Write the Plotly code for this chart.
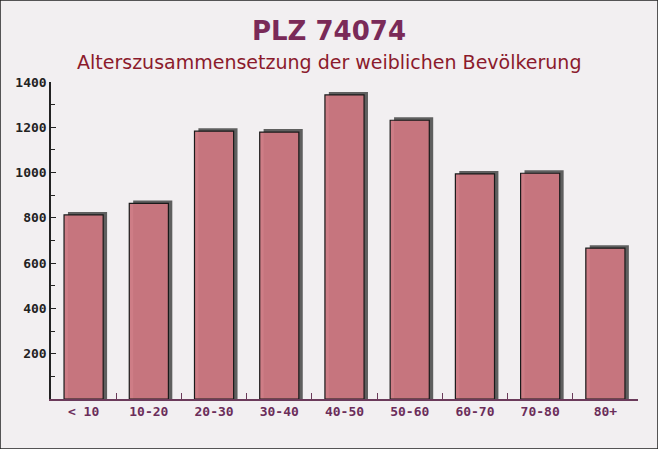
import plotly.graph_objects as go

categories = ["< 10", "10-20", "20-30", "30-40", "40-50", "50-60", "60-70", "70-80", "80+"]
values = [813, 864, 1183, 1179, 1343, 1231, 994, 997, 666]
y_ticks = [200, 400, 600, 800, 1000, 1200, 1400]

shadow_lift = 13
bar_w = 0.6
shadow_shift = 0.06

fig = go.Figure()
fig.add_trace(go.Bar(
    x=categories, y=[v + shadow_lift for v in values],
    width=bar_w, offset=-bar_w / 2 + shadow_shift,
    marker=dict(color="#5f5f5f", line=dict(width=0)),
    hoverinfo="skip", showlegend=False,
))
fig.add_trace(go.Bar(
    x=categories, y=values,
    width=bar_w, offset=-bar_w / 2,
    marker=dict(color="rgba(203,118,128,0.95)", line=dict(color="#1a1a1a", width=1.2)),
    showlegend=False,
))

cx = 0.5 + (329 - (51 + 587 / 2)) / 587

fig.update_layout(
    width=658, height=449,
    margin=dict(l=51, r=20, t=82, b=50),
    barmode="overlay",
    paper_bgcolor="#f2eff1",
    plot_bgcolor="rgba(0,0,0,0)",
    xaxis=dict(
        showline=True, linecolor="#6b3a5a", linewidth=1.5,
        ticks="inside", tickson="boundaries", ticklen=6, tickcolor="#6b3a5a",
        tickfont=dict(family="DejaVu Sans Mono", size=13, color="#6b2d5a", weight="bold"),
        showgrid=False, zeroline=False,
    ),
    yaxis=dict(
        range=[0, 1400], tickvals=y_ticks,
        showline=True, linecolor="#222", linewidth=1.5,
        ticks="inside", ticklen=5, tickcolor="#222",
        minor=dict(dtick=100, ticks="inside", ticklen=4, tickcolor="#222"),
        tickfont=dict(family="DejaVu Sans Mono", size=13, color="#222", weight="bold"),
        showgrid=False, zeroline=False,
    ),
    annotations=[
        dict(text="<b>PLZ 74074</b>", xref="paper", yref="paper",
             x=cx, y=(399 - 31) / 317,
             xanchor="center", yanchor="middle", showarrow=False,
             font=dict(family="DejaVu Sans", size=26, color="#7a2a58")),
        dict(text="Alterszusammensetzung der weiblichen Bevölkerung", xref="paper", yref="paper",
             x=cx, y=(399 - 62) / 317,
             xanchor="center", yanchor="middle", showarrow=False,
             font=dict(family="DejaVu Sans", size=19, color="#8b1a2c")),
    ],
    shapes=[dict(type="rect", xref="paper", yref="paper",
                 x0=-51/587, x1=1+20/587, y0=-50/317, y1=1+82/317,
                 line=dict(color="#222", width=1.5))],
)

fig.write_html("out.html")
